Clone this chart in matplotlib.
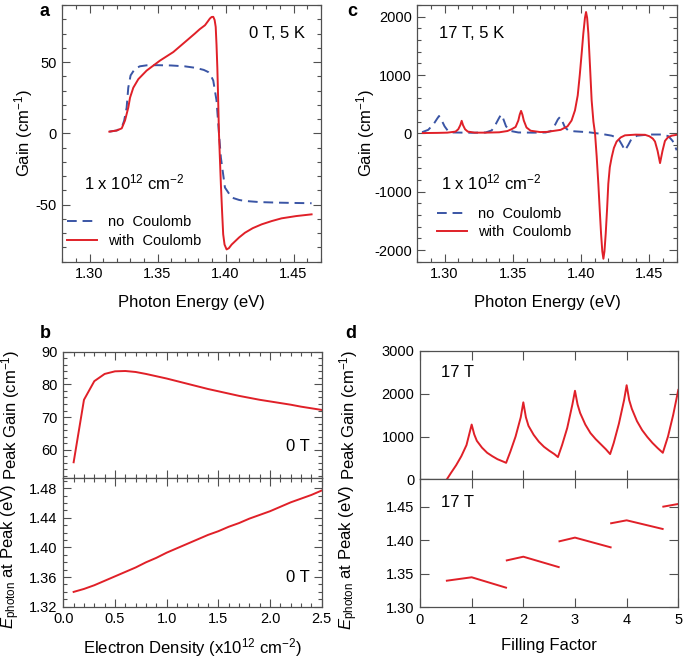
import numpy as np
import matplotlib
matplotlib.use('Agg')
import matplotlib.pyplot as plt
from matplotlib.ticker import MultipleLocator, FormatStrFormatter

plt.rcParams['font.family'] = ['Liberation Sans', 'DejaVu Sans']
plt.rcParams['mathtext.fontset'] = 'custom'
plt.rcParams['mathtext.rm'] = 'Liberation Sans'
plt.rcParams['mathtext.it'] = 'Liberation Sans:italic'
plt.rcParams['axes.unicode_minus'] = False

nan = np.nan

# panel a: 0 T, 5 K gain spectra
a_coul_x = [1.3146, 1.3200, 1.3237, 1.3261, 1.3285, 1.3298, 1.3322, 1.3359, 1.3420, 1.3518,
            1.3616, 1.3714, 1.3775, 1.3810, 1.3849, 1.3870, 1.3885, 1.3898, 1.3910, 1.3920,
            1.3928, 1.3934, 1.3940, 1.3946, 1.3952, 1.3959, 1.3966, 1.3975, 1.3983, 1.3993,
            1.4008, 1.4025, 1.4045, 1.4100, 1.4143, 1.4200, 1.4266, 1.4340, 1.4412, 1.4520,
            1.4633]
a_coul_y = [1.2, 2.0, 3.5, 9, 18, 25, 32, 38, 44, 51,
            57, 65, 70, 73, 75.8, 78.5, 80.5, 81.6, 81.7, 79.5,
            74.6, 62, 46, 24, -0.4, -18, -35.6, -55, -70.8, -78,
            -81.4, -80.5, -78, -73, -69.7, -66.5, -63.8, -61.5, -59.6, -58.0,
            -56.8]
a_free_x = [1.3146, 1.3200, 1.3237, 1.3255, 1.3273, 1.3285, 1.3302, 1.3334, 1.3370, 1.3420,
            1.3500, 1.3600, 1.3700, 1.3775, 1.3840, 1.3873, 1.3895, 1.3910, 1.3934, 1.3952,
            1.3966, 1.3996, 1.4045, 1.4100, 1.4143, 1.4250, 1.4389, 1.4500, 1.4633]
a_free_y = [1.2, 2.0, 4, 9, 18, 32, 40.6, 45.3, 47.0, 47.7,
            47.8, 47.6, 47.0, 46.0, 44.5, 43, 40, 37, 23, 0,
            -17, -38, -45, -46.7, -47.4, -48.2, -48.6, -48.8, -49]

# panel c: 17 T, 5 K gain spectra
c_coul_x = [1.2840, 1.2950, 1.3020, 1.3080, 1.3100, 1.3115, 1.3125, 1.3135, 1.3150, 1.3170,
            1.3220, 1.3300, 1.3400, 1.3460, 1.3490, 1.3520, 1.3540, 1.3550, 1.3560, 1.3570,
            1.3580, 1.3600, 1.3630, 1.3700, 1.3750, 1.3850, 1.3900, 1.3930, 1.3955, 1.3975,
            1.3990, 1.4005, 1.4016, 1.4028, 1.4036, 1.4044, 1.4053, 1.4065, 1.4077, 1.4090,
            1.4102, 1.4114, 1.4126, 1.4136, 1.4146, 1.4155, 1.4163, 1.4171, 1.4180, 1.4190,
            1.4199, 1.4210, 1.4224, 1.4240, 1.4260, 1.4290, 1.4321, 1.4400, 1.4468, 1.4500,
            1.4525, 1.4541, 1.4560, 1.4578, 1.4596, 1.4614, 1.4635, 1.4663, 1.4700]
c_coul_y = [5, 8, 12, 30, 70, 140, 215, 140, 70, 30,
            12, 12, 18, 40, 70, 110, 220, 320, 385, 320,
            220, 100, 45, 22, 25, 60, 120, 220, 395, 650,
            1000, 1400, 1710, 1980, 2080, 1980, 1710, 1150, 566, 200,
            -5, -400, -864, -1300, -1722, -2020, -2150, -2020, -1722, -1300,
            -864, -580, -407, -250, -140, -70, -34, -22, -25, -50,
            -90, -140, -300, -510, -300, -130, -70, -40, -25]
c_free_x = [1.2835, 1.2880, 1.2920, 1.2945, 1.2959, 1.2975, 1.3000, 1.3025, 1.3060, 1.3200,
            1.3300, 1.3345, 1.3375, 1.3398, 1.3413, 1.3428, 1.3450, 1.3485, 1.3540, 1.3650,
            1.3740, 1.3780, 1.3810, 1.3830, 1.3845, 1.3860, 1.3880, 1.3905, 1.3950, 1.4050,
            1.4150, 1.4224, 1.4270, 1.4300, 1.4321, 1.4345, 1.4370, 1.4410, 1.4500, 1.4600,
            1.4640, 1.4670, 1.4700]
c_free_y = [20, 60, 160, 250, 297, 240, 120, 40, 15, 10,
            15, 50, 160, 260, 321, 260, 120, 40, 15, 12,
            15, 40, 150, 240, 280, 220, 110, 50, 35, 20,
            -10, -40, -80, -200, -292, -200, -90, -40, -20, -20,
            -50, -130, -290]

# panel b: 0 T peak gain and peak photon energy vs density
b_density = [0.1, 0.2, 0.3, 0.4, 0.5, 0.6, 0.7, 0.8, 0.9, 1.0, 1.1, 1.2, 1.3,
             1.4, 1.5, 1.6, 1.7, 1.8, 1.9, 2.0, 2.1, 2.2, 2.3, 2.4, 2.5]
b_peak_gain = [56.2, 75.3, 81.0, 83.2, 84.0, 84.1, 83.8, 83.2, 82.5, 81.8, 81.0, 80.2, 79.4,
               78.6, 77.9, 77.2, 76.5, 75.9, 75.3, 74.8, 74.3, 73.8, 73.2, 72.7, 72.2]
b_peak_energy = [1.340, 1.344, 1.349, 1.355, 1.361, 1.367, 1.373, 1.380, 1.386, 1.393, 1.399, 1.405, 1.411,
                 1.417, 1.422, 1.428, 1.433, 1.439, 1.444, 1.449, 1.455, 1.461, 1.466, 1.471, 1.477]

# panel d: 17 T peak gain and peak photon energy vs filling factor
d_fill = [0.52, 0.6, 0.7, 0.8, 0.9, 1.0, 1.05, 1.1, 1.2, 1.3, 1.4, 1.5, 1.6, 1.667,
          1.75, 1.85, 1.95, 2.0, 2.05, 2.1, 2.2, 2.3, 2.4, 2.5, 2.6, 2.67,
          2.75, 2.85, 2.95, 3.0, 3.05, 3.1, 3.2, 3.3, 3.4, 3.5, 3.6, 3.68,
          3.75, 3.85, 3.95, 4.0, 4.05, 4.1, 4.2, 4.3, 4.4, 4.5, 4.6, 4.7,
          4.8, 4.9, 5.0]
d_peak_gain = [0, 150, 330, 540, 800, 1280, 1050, 900, 740, 620, 540, 470, 420, 385,
               650, 1000, 1450, 1800, 1450, 1250, 1040, 880, 760, 670, 590, 520,
               800, 1200, 1750, 2070, 1750, 1550, 1280, 1080, 940, 820, 700, 590,
               850, 1300, 1850, 2200, 1850, 1650, 1360, 1150, 990, 850, 730, 620,
               1000, 1500, 2090]
d_energy_fill = [0.52, 1.0, 1.665, nan, 1.68, 2.0, 2.685, nan, 2.70, 3.0, 3.69, nan,
                 3.70, 4.0, 4.697, nan, 4.71, 5.0]
d_peak_energy = [1.3397, 1.3448, 1.3293, nan, 1.3700, 1.3755, 1.3600, nan, 1.3985, 1.4040, 1.3895, nan,
                 1.4254, 1.4298, 1.4169, nan, 1.4502, 1.4542]

red = '#e02028'
blue = '#3a55a5'
edge = '#505050'
W, H = 685, 662


def box(l, t, r, b):
    return [l / W, 1 - b / H, (r - l) / W, (b - t) / H]


def style(ax, major=5.5, minor=3.0):
    for s in ax.spines.values():
        s.set_color(edge)
        s.set_linewidth(0.9)
    ax.tick_params(which='both', direction='in', top=True, right=True,
                   color=edge, labelsize=10.5, pad=4, width=0.8)
    ax.tick_params(which='major', length=major)
    ax.tick_params(which='minor', length=minor)


fig = plt.figure(figsize=(6.85, 6.62), dpi=100)

# ---- a
ax_a = fig.add_axes(box(62.3, 5, 320.7, 261.7))
ax_a.plot(a_free_x, a_free_y, color=blue, lw=1.4, dashes=(5, 3), label='no  Coulomb')
ax_a.plot(a_coul_x, a_coul_y, color=red, lw=1.4, label='with  Coulomb')
ax_a.set_xlim(1.28, 1.47)
ax_a.set_ylim(-90, 90)
ax_a.xaxis.set_major_locator(MultipleLocator(0.05))
ax_a.xaxis.set_minor_locator(MultipleLocator(0.01))
ax_a.xaxis.set_major_formatter(FormatStrFormatter('%.2f'))
ax_a.yaxis.set_major_locator(MultipleLocator(50))
ax_a.yaxis.set_minor_locator(MultipleLocator(10))
style(ax_a)
ax_a.set_xlabel('Photon Energy (eV)', fontsize=12, labelpad=10)
ax_a.set_ylabel('Gain (cm$^{-1}$)', fontsize=12)
ax_a.yaxis.set_label_coords(-0.105, 0.5)
ax_a.text(0.94, 0.89, '0 T, 5 K', transform=ax_a.transAxes, ha='right', va='center', fontsize=12)
ax_a.text(0.085, 0.31, '1 x 10$^{12}$ cm$^{-2}$', transform=ax_a.transAxes, ha='left', va='center', fontsize=12)
ax_a.legend(loc='lower left', frameon=False, fontsize=10.5, handlelength=2.0,
            borderaxespad=0.3, labelspacing=0.3, bbox_to_anchor=(-0.02, 0.015))

# ---- c
ax_c = fig.add_axes(box(417.3, 5, 676.7, 261.7))
ax_c.plot(c_free_x, c_free_y, color=blue, lw=1.4, dashes=(5, 3), label='no  Coulomb')
ax_c.plot(c_coul_x, c_coul_y, color=red, lw=1.4, label='with  Coulomb')
ax_c.set_xlim(1.28, 1.47)
ax_c.set_ylim(-2200, 2200)
ax_c.xaxis.set_major_locator(MultipleLocator(0.05))
ax_c.xaxis.set_minor_locator(MultipleLocator(0.01))
ax_c.xaxis.set_major_formatter(FormatStrFormatter('%.2f'))
ax_c.yaxis.set_major_locator(MultipleLocator(1000))
ax_c.yaxis.set_minor_locator(MultipleLocator(200))
style(ax_c)
ax_c.set_xlabel('Photon Energy (eV)', fontsize=12, labelpad=10)
ax_c.set_ylabel('Gain (cm$^{-1}$)', fontsize=12)
ax_c.yaxis.set_label_coords(-0.155, 0.5)
ax_c.text(0.085, 0.89, '17 T, 5 K', transform=ax_c.transAxes, ha='left', va='center', fontsize=12)
ax_c.text(0.09, 0.31, '1 x 10$^{12}$ cm$^{-2}$', transform=ax_c.transAxes, ha='left', va='center', fontsize=12)
ax_c.legend(loc='lower left', frameon=False, fontsize=10.5, handlelength=2.0,
            borderaxespad=0.3, labelspacing=0.3, bbox_to_anchor=(0.038, 0.047))

# ---- b
ax_b1 = fig.add_axes(box(63.3, 351.7, 321.7, 478.3))
ax_b2 = fig.add_axes(box(63.3, 478.3, 321.7, 606.7))
ax_b1.plot(b_density, b_peak_gain, color=red, lw=1.4)
ax_b2.plot(b_density, b_peak_energy, color=red, lw=1.4)
for ax in (ax_b1, ax_b2):
    ax.set_xlim(0, 2.5)
    ax.xaxis.set_major_locator(MultipleLocator(0.5))
    ax.xaxis.set_minor_locator(MultipleLocator(0.1))
    ax.xaxis.set_major_formatter(FormatStrFormatter('%.1f'))
    style(ax)
ax_b1.set_ylim(51.3, 90)
ax_b1.yaxis.set_major_locator(MultipleLocator(10))
ax_b1.yaxis.set_minor_locator(MultipleLocator(2))
ax_b1.tick_params(labelbottom=False)
ax_b2.set_ylim(1.32, 1.4935)
ax_b2.yaxis.set_major_locator(MultipleLocator(0.04))
ax_b2.yaxis.set_minor_locator(MultipleLocator(0.01))
ax_b2.yaxis.set_major_formatter(FormatStrFormatter('%.2f'))
ax_b1.set_ylabel('Peak Gain (cm$^{-1}$)', fontsize=12)
ax_b2.set_ylabel('$E_{\\mathrm{photon}}$ at Peak (eV)', fontsize=12)
ax_b1.yaxis.set_label_coords(-0.16, 0.5)
ax_b2.yaxis.set_label_coords(-0.16, 0.39)
ax_b2.set_xlabel('Electron Density (x10$^{12}$ cm$^{-2}$)', fontsize=12, labelpad=7)
ax_b1.text(0.955, 0.25, '0 T', transform=ax_b1.transAxes, ha='right', va='center', fontsize=12)
ax_b2.text(0.955, 0.23, '0 T', transform=ax_b2.transAxes, ha='right', va='center', fontsize=12)

# ---- d
ax_d1 = fig.add_axes(box(420, 351, 678.3, 479.3))
ax_d2 = fig.add_axes(box(420, 479.3, 678.3, 607.3))
ax_d1.plot(d_fill, d_peak_gain, color=red, lw=1.4)
ax_d2.plot(d_energy_fill, d_peak_energy, color=red, lw=1.4)
for ax in (ax_d1, ax_d2):
    ax.set_xlim(0, 5)
    ax.xaxis.set_major_locator(MultipleLocator(1))
    style(ax, major=6.5)
ax_d1.set_ylim(0, 3000)
ax_d1.yaxis.set_major_locator(MultipleLocator(1000))
ax_d1.tick_params(labelbottom=False)
ax_d2.set_ylim(1.30, 1.491)
ax_d2.yaxis.set_major_locator(MultipleLocator(0.05))
ax_d2.yaxis.set_major_formatter(FormatStrFormatter('%.2f'))
ax_d1.set_ylabel('Peak Gain (cm$^{-1}$)', fontsize=12)
ax_d2.set_ylabel('$E_{\\mathrm{photon}}$ at Peak (eV)', fontsize=12)
ax_d1.yaxis.set_label_coords(-0.232, 0.5)
ax_d2.yaxis.set_label_coords(-0.232, 0.39)
ax_d2.set_xlabel('Filling Factor', fontsize=12, labelpad=8)
ax_d1.text(0.08, 0.83, '17 T', transform=ax_d1.transAxes, ha='left', va='center', fontsize=12)
ax_d2.text(0.08, 0.815, '17 T', transform=ax_d2.transAxes, ha='left', va='center', fontsize=12)

# panel letters
for lab, x, y in [('a', 40, 12), ('c', 347, 12), ('b', 40, 333), ('d', 345, 333)]:
    fig.text(x / W, 1 - y / H, lab, fontsize=13, fontweight='bold', ha='left', va='center')

fig.savefig('out.png', dpi=100)
